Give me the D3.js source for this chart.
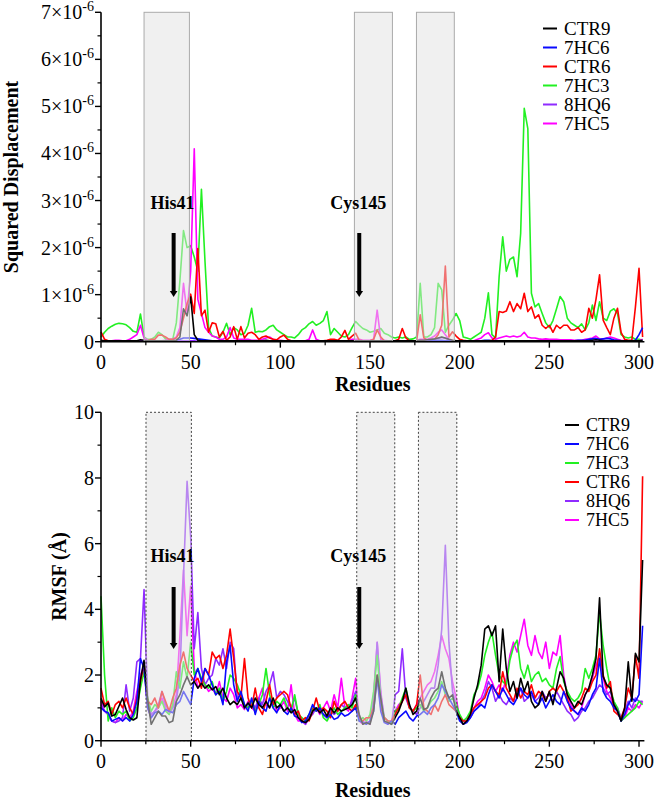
<!DOCTYPE html>
<html>
<head>
<meta charset="utf-8">
<script src="https://cdn.jsdelivr.net/npm/d3@7"></script>
<style>
html,body{margin:0;padding:0;background:#fff;}
svg{display:block;}
</style>
</head>
<body>
<script>
// ---------------- DATA ----------------
// residue positions (every 2nd residue, 0..302)
const residues = d3.range(0, 303, 2);

// Top panel: squared displacement, in units of 1e-6
const sdCTR9 = [
0.03,0.02,0.02,0.02,0.02,0.02,0.02,0.02,0.02,0.02,
0.02,0.04,0.03,0.02,0.02,0.02,0.02,0.02,0.02,0.02,
0.02,0.03,0.10,0.70,0.55,0.95,0.15,0.03,0.02,0.02,
0.02,0.02,0.02,0.02,0.02,0.02,0.02,0.02,0.02,0.02,
0.02,0.02,0.02,0.02,0.02,0.02,0.03,0.02,0.02,0.02,
0.02,0.02,0.02,0.02,0.02,0.02,0.02,0.02,0.02,0.02,
0.02,0.02,0.02,0.02,0.02,0.02,0.02,0.02,0.02,0.02,
0.02,0.02,0.02,0.02,0.02,0.02,0.02,0.02,0.02,0.02,
0.02,0.02,0.02,0.02,0.02,0.02,0.02,0.02,0.02,0.03,
0.03,0.04,0.05,0.06,0.08,0.10,0.08,0.05,0.03,0.02,
0.02,0.02,0.02,0.02,0.02,0.02,0.02,0.02,0.02,0.02,
0.02,0.02,0.02,0.02,0.02,0.02,0.02,0.02,0.02,0.02,
0.02,0.02,0.02,0.02,0.02,0.02,0.02,0.02,0.02,0.02,
0.02,0.02,0.02,0.02,0.02,0.02,0.02,0.03,0.04,0.03,
0.02,0.02,0.02,0.02,0.02,0.02,0.02,0.02,0.02,0.02,
0.02,0.03];
const sd7HC6 = [
0.01,0.01,0.01,0.01,0.01,0.01,0.01,0.01,0.01,0.01,
0.01,0.01,0.01,0.01,0.01,0.01,0.01,0.01,0.01,0.02,
0.02,0.03,0.05,0.08,0.08,0.08,0.07,0.06,0.05,0.04,
0.03,0.02,0.02,0.02,0.02,0.02,0.02,0.02,0.02,0.02,
0.02,0.02,0.02,0.02,0.02,0.02,0.02,0.02,0.02,0.02,
0.01,0.01,0.01,0.01,0.01,0.01,0.01,0.01,0.01,0.01,
0.01,0.01,0.01,0.01,0.01,0.01,0.01,0.01,0.01,0.01,
0.01,0.01,0.01,0.01,0.01,0.01,0.01,0.01,0.01,0.01,
0.01,0.01,0.01,0.01,0.01,0.01,0.01,0.01,0.01,0.01,
0.01,0.01,0.02,0.02,0.03,0.03,0.02,0.02,0.01,0.01,
0.01,0.01,0.01,0.01,0.01,0.02,0.02,0.03,0.03,0.02,
0.02,0.02,0.02,0.02,0.02,0.02,0.02,0.02,0.02,0.02,
0.02,0.02,0.02,0.02,0.02,0.02,0.02,0.02,0.02,0.02,
0.02,0.02,0.02,0.03,0.03,0.03,0.05,0.06,0.07,0.05,
0.06,0.07,0.06,0.04,0.03,0.02,0.02,0.02,0.02,0.03,
0.15,0.30];
const sdCTR6 = [
0.21,0.05,0.02,0.02,0.02,0.02,0.02,0.02,0.02,0.02,
0.02,0.02,0.02,0.02,0.05,0.05,0.14,0.14,0.10,0.05,
0.05,0.08,0.20,0.50,0.81,1.01,0.60,1.98,0.55,0.67,
0.20,0.40,0.38,0.10,0.22,0.03,0.10,0.32,0.05,0.32,
0.08,0.18,0.20,0.15,0.05,0.10,0.12,0.08,0.05,0.04,
0.10,0.14,0.05,0.02,0.02,0.02,0.02,0.02,0.02,0.02,
0.02,0.02,0.02,0.03,0.05,0.05,0.03,0.10,0.24,0.05,
0.12,0.18,0.03,0.02,0.02,0.02,0.05,0.25,0.10,0.02,
0.02,0.02,0.02,0.05,0.28,0.08,0.02,0.02,0.02,0.57,
0.08,0.03,0.03,0.05,0.15,0.35,1.61,0.10,0.21,0.12,
0.05,0.03,0.02,0.02,0.02,0.02,0.02,0.02,0.02,0.03,
0.10,0.64,0.62,0.65,0.85,0.64,0.81,0.70,1.03,0.64,
0.74,0.50,0.57,0.35,0.28,0.35,0.20,0.35,0.28,0.35,
0.35,0.25,0.25,0.30,0.20,0.25,0.71,0.50,0.90,1.42,
0.46,0.30,0.15,0.50,0.71,0.20,0.05,0.03,0.03,0.74,
1.56,0.10];
const sd7HC3 = [
0.10,0.20,0.28,0.33,0.37,0.39,0.38,0.36,0.30,0.22,
0.20,0.59,0.10,0.05,0.05,0.10,0.20,0.15,0.06,0.05,
0.05,0.40,1.30,2.36,2.00,2.04,1.80,1.50,3.24,1.70,
0.30,0.12,0.10,0.08,0.20,0.39,0.15,0.30,0.25,0.15,
0.18,0.35,0.71,0.20,0.22,0.21,0.25,0.32,0.35,0.25,
0.20,0.15,0.10,0.10,0.08,0.15,0.25,0.30,0.38,0.43,
0.35,0.39,0.45,0.64,0.15,0.28,0.20,0.12,0.10,0.15,
0.30,0.43,0.35,0.28,0.25,0.20,0.22,0.25,0.28,0.18,
0.15,0.10,0.08,0.10,0.08,0.10,0.05,0.06,0.10,1.24,
0.10,0.10,0.15,0.30,1.24,1.10,0.20,0.35,0.46,0.60,
0.45,0.10,0.08,0.05,0.10,0.15,0.20,0.50,1.04,0.15,
0.08,1.38,2.23,1.50,1.75,1.80,1.38,2.30,4.96,4.53,
1.03,0.74,0.81,0.60,0.40,0.30,0.45,0.70,0.96,0.85,
0.50,0.40,0.35,0.30,0.38,0.25,0.40,0.78,0.45,0.85,
0.50,0.45,0.65,0.70,0.60,0.15,0.10,0.08,0.10,0.05,
0.05,0.03];
const sd8HQ6 = [
0.01,0.01,0.01,0.01,0.01,0.01,0.01,0.01,0.01,0.01,
0.01,0.01,0.01,0.01,0.01,0.01,0.01,0.01,0.01,0.01,
0.01,0.01,0.02,0.02,0.02,0.02,0.02,0.01,0.01,0.01,
0.01,0.01,0.01,0.01,0.01,0.01,0.01,0.01,0.01,0.01,
0.01,0.01,0.01,0.01,0.01,0.01,0.01,0.01,0.01,0.01,
0.01,0.01,0.01,0.01,0.01,0.01,0.01,0.01,0.01,0.01,
0.01,0.01,0.01,0.01,0.01,0.01,0.01,0.01,0.01,0.01,
0.01,0.01,0.01,0.01,0.01,0.01,0.01,0.01,0.01,0.01,
0.01,0.01,0.01,0.01,0.01,0.01,0.01,0.01,0.01,0.01,
0.02,0.03,0.04,0.05,0.07,0.09,0.07,0.04,0.02,0.02,
0.01,0.01,0.01,0.01,0.01,0.01,0.01,0.01,0.01,0.01,
0.01,0.01,0.01,0.01,0.01,0.01,0.01,0.01,0.01,0.01,
0.01,0.01,0.01,0.01,0.01,0.01,0.01,0.01,0.01,0.01,
0.01,0.01,0.01,0.01,0.01,0.01,0.01,0.01,0.01,0.01,
0.01,0.01,0.01,0.01,0.01,0.01,0.01,0.01,0.01,0.01,
0.01,0.01];
const sd7HC5 = [
0.02,0.02,0.02,0.02,0.03,0.03,0.02,0.02,0.05,0.10,
0.15,0.35,0.08,0.03,0.02,0.02,0.02,0.02,0.03,0.05,
0.05,0.10,0.30,1.24,0.60,1.50,4.10,0.90,0.60,0.30,
0.20,0.12,0.10,0.05,0.05,0.10,0.30,0.08,0.05,0.05,
0.05,0.05,0.03,0.03,0.03,0.05,0.08,0.10,0.05,0.03,
0.03,0.02,0.02,0.02,0.02,0.02,0.02,0.02,0.05,0.25,
0.05,0.02,0.02,0.02,0.02,0.02,0.02,0.02,0.02,0.02,
0.05,0.05,0.05,0.03,0.03,0.03,0.05,0.67,0.05,0.03,
0.02,0.02,0.02,0.02,0.02,0.02,0.02,0.02,0.02,0.05,
0.05,0.05,0.08,0.12,0.20,0.25,0.15,0.05,0.03,0.02,
0.02,0.02,0.02,0.02,0.02,0.05,0.08,0.15,0.19,0.08,
0.05,0.08,0.10,0.12,0.10,0.12,0.10,0.12,0.20,0.10,
0.08,0.08,0.06,0.05,0.06,0.05,0.05,0.05,0.04,0.04,
0.04,0.04,0.03,0.03,0.03,0.05,0.06,0.08,0.12,0.06,
0.05,0.08,0.10,0.08,0.05,0.03,0.02,0.02,0.02,0.02,
0.02,0.05];

// Bottom panel: RMSF (Å)
const rmsfCTR9 = [
1.29,1.03,1.15,0.75,0.80,1.05,1.30,0.95,0.70,0.63,
0.70,1.85,2.45,1.24,0.50,0.70,0.90,0.75,0.75,0.55,
0.60,1.20,1.40,1.70,1.95,1.70,1.80,1.60,1.75,1.60,
1.70,1.55,1.65,1.40,1.60,1.30,1.10,1.20,1.10,1.30,
1.00,1.15,1.00,1.30,1.10,1.00,1.20,1.00,1.30,1.00,
1.10,0.90,1.00,0.85,0.95,0.70,0.60,0.55,0.65,0.90,
1.00,0.85,0.95,0.75,1.00,0.85,1.00,0.90,0.95,1.00,
1.10,1.30,0.80,0.50,0.55,0.50,0.90,2.00,1.30,0.60,
0.55,0.50,0.70,0.90,1.20,1.60,1.10,0.80,0.90,1.30,
0.95,1.00,1.30,1.50,1.60,2.10,1.60,1.30,1.40,0.90,
0.70,0.50,0.60,0.80,1.30,1.70,2.30,3.40,3.50,3.20,
3.50,1.80,3.40,2.20,1.50,1.80,1.30,1.90,1.50,1.80,
1.20,1.00,1.10,1.50,1.20,1.50,1.10,1.60,2.10,1.90,
1.40,1.20,1.00,1.20,1.10,1.40,1.60,2.00,2.50,4.35,
1.95,1.70,1.60,1.10,0.90,0.60,1.00,2.40,1.20,2.66,
2.40,5.50];
const rmsf7HC6 = [
1.00,0.90,0.85,0.60,0.65,0.70,0.60,0.70,0.60,0.80,
1.20,2.50,2.20,1.00,0.70,0.85,0.90,0.80,0.95,0.90,
0.85,1.10,1.20,1.50,1.30,1.10,1.90,2.20,1.80,2.20,
2.00,1.70,1.40,1.50,1.10,2.40,2.90,1.70,1.20,1.50,
1.10,0.90,1.30,0.80,1.20,1.00,0.90,1.30,1.00,0.85,
1.10,0.90,0.80,1.00,0.75,0.70,0.55,0.60,0.80,1.10,
0.90,1.00,0.80,0.70,0.80,0.65,0.70,0.85,0.75,0.80,
0.90,1.00,0.60,0.55,0.50,0.60,0.90,1.90,0.90,0.55,
0.50,0.60,0.50,0.70,0.80,0.90,0.70,0.60,0.75,0.80,
0.90,0.80,1.00,1.10,1.30,1.70,1.50,1.30,1.10,0.90,
0.60,0.50,0.55,0.70,0.90,1.00,1.10,1.00,1.40,1.70,
1.50,1.30,1.60,1.40,1.20,1.10,1.30,1.60,1.40,1.30,
1.50,1.20,1.10,1.30,1.00,1.20,1.40,1.20,1.10,1.50,
1.20,1.00,0.90,0.80,1.00,0.90,1.10,1.40,1.60,2.50,
1.50,1.30,1.20,1.00,0.90,0.60,0.80,1.10,1.30,1.20,
1.40,3.50];
const rmsf7HC3 = [
4.40,2.00,0.60,1.00,0.70,0.90,0.80,0.90,0.60,0.70,
1.00,1.60,2.10,1.30,0.90,1.10,1.00,1.20,0.90,0.80,
1.10,2.10,1.60,2.40,1.90,3.00,2.00,2.20,1.90,1.70,
1.60,1.80,1.40,1.60,1.20,1.50,2.00,1.90,1.70,1.40,
1.10,1.00,1.20,0.90,1.10,1.40,2.20,1.40,1.00,1.20,
1.10,1.30,1.00,0.90,1.40,0.80,0.70,0.60,0.80,1.00,
0.90,1.10,0.70,0.60,0.80,1.00,0.80,0.90,1.00,1.10,
1.00,1.40,0.60,0.70,0.60,0.80,1.50,2.60,1.20,0.70,
0.60,0.50,0.90,1.00,1.30,1.60,1.00,0.90,1.00,1.10,
0.90,1.00,1.20,1.30,1.50,1.80,1.40,1.20,1.30,1.10,
0.80,0.60,0.70,0.90,1.40,1.60,2.00,2.60,3.00,3.30,
2.60,2.00,1.80,1.70,2.45,2.86,3.06,2.20,1.90,2.30,
1.80,2.00,2.10,1.80,1.90,1.70,1.60,2.20,2.56,1.80,
1.50,1.30,1.20,1.30,1.50,2.20,1.90,2.20,2.60,3.90,
2.90,2.20,1.60,1.20,1.00,0.60,0.70,0.80,0.90,1.00,
1.20,1.10];
const rmsfCTR6 = [
1.60,1.10,1.20,0.80,1.10,1.20,1.00,1.30,1.00,0.80,
1.30,1.80,2.30,1.20,1.10,1.30,1.00,1.50,1.20,0.90,
1.30,1.60,2.30,2.70,2.20,2.00,1.80,1.90,1.60,2.20,
2.00,2.70,2.50,2.60,2.20,2.60,3.40,2.50,1.50,1.30,
2.50,1.30,1.00,1.60,1.00,0.80,1.20,1.70,1.10,1.30,
1.40,1.50,1.40,1.00,0.80,0.90,0.60,0.70,0.60,0.90,
1.30,0.90,1.00,0.90,0.70,1.20,0.90,1.10,1.20,1.00,
0.90,1.10,0.70,0.60,0.70,0.70,1.00,2.00,1.00,0.70,
0.60,0.60,0.80,1.00,1.20,1.40,1.00,0.90,1.10,2.00,
1.00,0.90,0.80,1.10,0.90,1.20,1.40,1.10,1.00,0.90,
0.70,0.60,0.60,0.80,1.00,1.10,1.20,1.30,1.60,1.70,
1.50,1.40,2.10,1.60,1.40,1.20,1.60,1.30,1.50,1.40,
1.70,1.30,1.50,1.40,1.20,1.50,1.60,1.50,1.70,1.50,
1.30,0.90,1.00,1.10,1.30,1.60,1.50,1.80,2.00,2.80,
2.00,1.60,1.80,0.90,0.80,0.70,1.00,1.60,1.30,2.60,
1.90,8.05];
const rmsf8HQ6 = [
1.10,0.90,0.80,0.60,0.55,0.60,0.70,1.70,0.90,1.30,
2.40,2.50,4.60,1.30,0.80,0.90,1.10,1.50,1.10,0.90,
1.00,1.20,2.00,5.00,7.90,6.20,2.80,3.90,2.20,1.70,
1.90,2.00,2.50,2.30,2.80,2.20,3.00,2.80,1.30,1.40,
1.00,1.10,1.20,1.00,1.30,1.10,1.50,1.70,2.10,1.30,
1.50,1.40,1.20,1.00,1.30,0.80,0.60,0.50,0.70,0.80,
1.00,0.90,0.80,0.70,0.90,0.80,0.90,1.10,1.00,1.00,
1.20,1.50,0.60,0.60,0.50,0.60,1.20,3.00,1.40,0.70,
0.60,0.50,1.40,1.50,2.80,1.30,1.00,0.90,0.80,1.00,
1.20,1.40,1.60,1.60,2.30,3.40,5.95,3.00,1.50,1.10,
0.70,0.50,0.60,0.70,0.90,1.00,1.20,1.40,1.80,1.60,
1.20,1.40,1.20,1.10,1.30,1.20,1.50,1.60,1.20,1.30,
1.40,1.20,1.30,1.50,1.30,1.40,1.20,1.50,1.30,1.10,
0.90,0.80,0.60,0.70,0.90,1.00,1.20,1.30,1.50,1.70,
1.60,1.40,1.50,1.10,1.00,0.70,0.90,1.20,1.00,1.30,
1.20,1.20];
const rmsf7HC5 = [
1.20,0.90,0.80,0.60,0.55,0.70,0.60,0.80,0.70,0.90,
1.50,2.00,2.30,1.00,0.70,0.90,1.00,1.30,1.00,0.80,
1.00,1.40,3.20,5.20,3.20,4.70,2.20,1.60,1.80,1.70,
1.50,1.60,1.40,1.80,1.30,1.20,1.60,1.40,1.00,1.10,
0.95,1.20,1.00,0.90,1.30,1.60,1.10,1.00,1.20,0.90,
1.00,1.20,0.90,1.70,0.80,0.60,0.60,0.50,0.70,0.90,
1.00,0.80,1.00,1.20,0.90,1.40,1.00,1.90,1.00,0.90,
1.30,1.90,0.60,0.50,0.60,0.50,1.40,3.00,1.50,0.60,
0.50,0.60,0.90,1.10,1.20,1.40,1.00,0.90,1.10,1.30,
1.50,1.70,1.80,2.10,2.60,3.20,2.80,2.50,1.80,1.30,
0.70,0.60,0.60,0.80,1.00,1.20,1.30,1.60,2.00,1.80,
1.50,1.70,1.50,1.90,2.60,3.00,2.70,3.20,3.70,2.90,
2.60,3.20,2.70,2.50,3.00,2.20,2.70,2.60,3.20,2.00,
1.40,1.10,0.90,0.80,1.00,1.40,1.60,1.90,2.30,2.60,
1.90,1.50,1.30,1.10,0.90,0.60,0.70,1.00,0.90,1.10,
1.00,1.20];

// series names / legends
const topLegend = ["CTR9", "7HC6", "CTR6", "7HC3", "8HQ6", "7HC5"];
const bottomLegend = ["CTR9", "7HC6", "7HC3", "CTR6", "8HQ6", "7HC5"];
const topDrawOrder = ["7HC3", "7HC5", "CTR6", "8HQ6", "7HC6", "CTR9"];
const bottomDrawOrder = ["7HC5", "8HQ6", "7HC3", "CTR6", "7HC6", "CTR9"];
const topValues = {CTR9: sdCTR9, "7HC6": sd7HC6, CTR6: sdCTR6, "7HC3": sd7HC3, "8HQ6": sd8HQ6, "7HC5": sd7HC5};
const bottomValues = {CTR9: rmsfCTR9, "7HC6": rmsf7HC6, CTR6: rmsfCTR6, "7HC3": rmsf7HC3, "8HQ6": rmsf8HQ6, "7HC5": rmsf7HC5};

// x ticks, y ticks
const xTicks = [0, 50, 100, 150, 200, 250, 300];
const xMinorTicks = [25, 75, 125, 175, 225, 275];
const topYTicks = [0, 1, 2, 3, 4, 5, 6, 7];
const topYMinor = [0.5, 1.5, 2.5, 3.5, 4.5, 5.5, 6.5];
const bottomYTicks = [0, 2, 4, 6, 8, 10];
const bottomYMinor = [1, 3, 5, 7, 9];

// highlighted residue ranges
const topRegions = [[24, 49.3], [141.3, 162.5], [175.9, 197]];
const bottomRegions = [[25.1, 50.4], [142.6, 163.8], [177, 198.4]];

// active site annotations
const siteLabels = ["His41", "Cys145"];
const siteResidues = [40.5, 144];

// ---------------- DRAW ----------------
const colors = {CTR9: "#000000", "7HC6": "#0a0aff", CTR6: "#ff0000", "7HC3": "#22f022", "8HQ6": "#8f2bff", "7HC5": "#ff00ff"};
const FONT = '"Liberation Serif","Times New Roman",Times,serif';
const W = 657, H = 802;
const svg = d3.select("body").append("svg").attr("width", W).attr("height", H)
  .style("font-family", FONT);

const x = d3.scaleLinear().domain([0, 303]).range([101, 644.4]);

function drawPanel(cfg) {
  const y = cfg.y;
  const g = svg.append("g");
  // lines
  const line = d3.line().x((d, i) => x(residues[i])).y(d => y(d));
  cfg.order.forEach(name => {
    g.append("path").datum(cfg.values[name])
      .attr("d", line)
      .attr("fill", "none")
      .attr("stroke", colors[name])
      .attr("stroke-width", 1.6)
      .attr("stroke-linejoin", "round");
  });
  // highlighted regions (semi-transparent overlay)
  cfg.regions.forEach(r => {
    g.append("rect")
      .attr("x", x(r[0])).attr("width", x(r[1]) - x(r[0]))
      .attr("y", y(cfg.yMax)).attr("height", y(0) - y(cfg.yMax))
      .attr("fill", "#e2e2e2").attr("fill-opacity", 0.5)
      .attr("stroke", cfg.regionStroke).attr("stroke-width", 1)
      .attr("stroke-dasharray", cfg.regionDash);
  });
  // axes
  const x0 = x(0), y0 = y(0);
  g.append("line").attr("x1", x0).attr("x2", x0).attr("y1", y0).attr("y2", y(cfg.yMax))
    .attr("stroke", "#000").attr("stroke-width", 1.6);
  g.append("line").attr("x1", x0).attr("x2", x(303)).attr("y1", y0).attr("y2", y0)
    .attr("stroke", "#000").attr("stroke-width", 1.6);
  xTicks.forEach(t => {
    g.append("line").attr("x1", x(t)).attr("x2", x(t)).attr("y1", y0).attr("y2", y0 + 6)
      .attr("stroke", "#000").attr("stroke-width", 1.4);
    g.append("text").attr("x", x(t)).attr("y", y0 + 27).attr("text-anchor", "middle")
      .attr("font-size", 20).text(t);
  });
  xMinorTicks.forEach(t => {
    g.append("line").attr("x1", x(t)).attr("x2", x(t)).attr("y1", y0).attr("y2", y0 + 3.5)
      .attr("stroke", "#000").attr("stroke-width", 1.2);
  });
  cfg.yTicks.forEach(t => {
    g.append("line").attr("x1", x0 - 6).attr("x2", x0).attr("y1", y(t)).attr("y2", y(t))
      .attr("stroke", "#000").attr("stroke-width", 1.4);
    const tx = g.append("text").attr("x", x0 - 7).attr("y", y(t) + 7).attr("text-anchor", "end")
      .attr("font-size", 20);
    cfg.yLabel(tx, t);
  });
  cfg.yMinor.forEach(t => {
    g.append("line").attr("x1", x0 - 3.5).attr("x2", x0).attr("y1", y(t)).attr("y2", y(t))
      .attr("stroke", "#000").attr("stroke-width", 1.2);
  });
  // axis titles
  g.append("text").attr("x", (x(0) + x(303)) / 2).attr("y", cfg.xTitleY)
    .attr("text-anchor", "middle").attr("font-size", 20).attr("font-weight", "bold").text("Residues");
  g.append("text").attr("transform", `translate(${cfg.yTitleX},${(y(0) + y(cfg.yMax)) / 2}) rotate(-90)`)
    .attr("text-anchor", "middle").attr("font-size", 20).attr("font-weight", "bold").text(cfg.yTitle);
  // annotations
  siteLabels.forEach((lab, i) => {
    const ax = x(siteResidues[i]);
    g.append("text").attr("x", ax - 1).attr("y", cfg.labelY).attr("text-anchor", "middle")
      .attr("font-size", 18).attr("font-weight", "bold").text(lab);
    g.append("line").attr("x1", ax).attr("x2", ax).attr("y1", cfg.arrowTop).attr("y2", cfg.arrowTip - 5)
      .attr("stroke", "#000").attr("stroke-width", 4);
    g.append("path")
      .attr("d", `M${ax - 3.8},${cfg.arrowTip - 6} L${ax + 3.8},${cfg.arrowTip - 6} L${ax},${cfg.arrowTip} Z`)
      .attr("fill", "#000");
  });
  // legend
  cfg.legend.forEach((name, i) => {
    const ly = cfg.legendY + i * cfg.legendStep;
    g.append("line").attr("x1", cfg.legendX).attr("x2", cfg.legendX + 14).attr("y1", ly).attr("y2", ly)
      .attr("stroke", colors[name]).attr("stroke-width", 2);
    g.append("text").attr("x", cfg.legendX + 21).attr("y", ly + 6).attr("font-size", cfg.legendFont).text(name);
  });
}

const yTop = d3.scaleLinear().domain([0, 7]).range([341.7, 12.3]);
const yBot = d3.scaleLinear().domain([0, 10]).range([740.7, 412.3]);

drawPanel({
  y: yTop, yMax: 7, values: topValues, order: topDrawOrder, regions: topRegions,
  regionStroke: "#aaaaaa", regionDash: null,
  yTicks: topYTicks, yMinor: topYMinor,
  yLabel: (tx, t) => {
    if (t === 0) { tx.text("0"); return; }
    tx.append("tspan").text(t + "\u00d710");
    tx.append("tspan").attr("font-size", 14).attr("dy", -8).text("-6");
  },
  xTitleY: 391, yTitleX: 18, yTitle: "Squared Displacement",
  labelY: 209, arrowTop: yTop(2.31), arrowTip: yTop(0.95),
  legend: topLegend, legendX: 543, legendY: 28.5, legendStep: 19, legendFont: 19
});

drawPanel({
  y: yBot, yMax: 10, values: bottomValues, order: bottomDrawOrder, regions: bottomRegions,
  regionStroke: "#444444", regionDash: "2,2",
  yTicks: bottomYTicks, yMinor: bottomYMinor,
  yLabel: (tx, t) => tx.text(t),
  xTitleY: 797, yTitleX: 66, yTitle: "RMSF (\u00c5)",
  labelY: 562, arrowTop: yBot(4.68), arrowTip: yBot(2.79),
  legend: bottomLegend, legendX: 565, legendY: 425, legendStep: 19, legendFont: 18
});
</script>
</body>
</html>
